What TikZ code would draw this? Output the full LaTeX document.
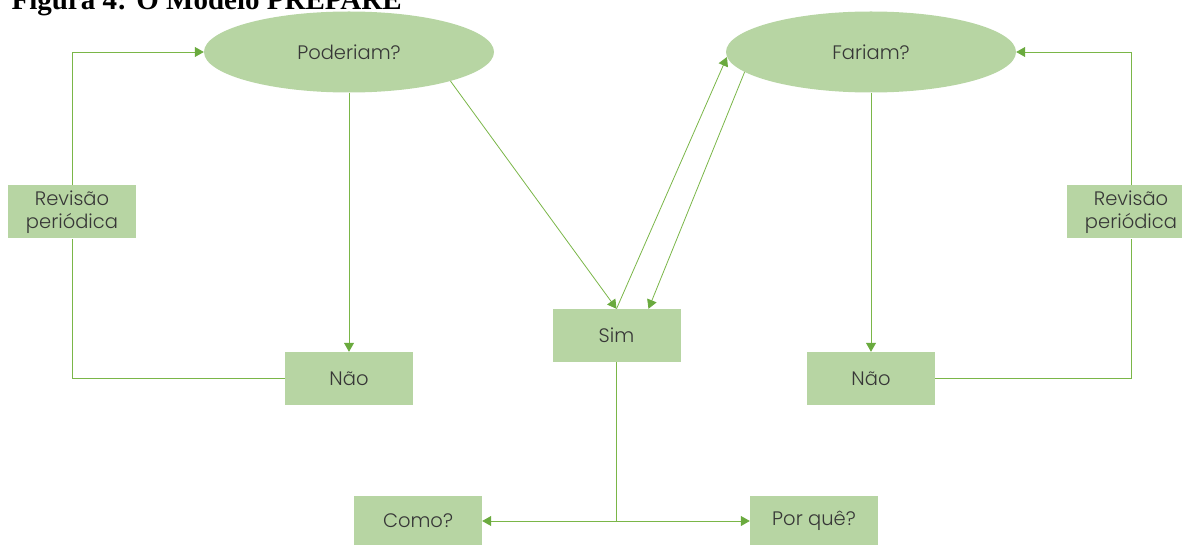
\documentclass[tikz,border=0pt]{standalone}
\usepackage{fontspec}
\setmainfont{Poppins}[UprightFont={* Light}]
\newfontfamily\titlefont{Liberation Serif}
\usetikzlibrary{shapes.geometric,arrows.meta,calc}
\definecolor{boxfill}{RGB}{183,213,163}
\definecolor{linkgreen}{RGB}{122,182,72}
\definecolor{tipgreen}{RGB}{106,170,62}
\definecolor{labelgray}{RGB}{55,55,55}
\begin{document}
\begin{tikzpicture}[x=1pt,y=-1pt,
  every node/.style={font=\fontsize{19.5}{23}\selectfont, text=labelgray},
  stepbox/.style={rectangle, fill=boxfill, minimum width=128pt, minimum height=53pt, inner sep=0pt, align=center},
  question/.style={ellipse, fill=boxfill, minimum width=290pt, minimum height=81pt, inner sep=0pt},
  link/.style={draw=linkgreen, line width=0.8pt},
  arr/.style={link, -{Triangle[length=9pt,width=10pt,color=tipgreen]}}
]
\useasboundingbox (0,0) rectangle (1182,545);
% heading, partly above the page edge
\node[anchor=base west, font=\titlefont\bfseries\fontsize{29}{30}\selectfont, text=black] (title) at (8,10) {Figura 4: O Modelo PREPARE};
% questions
\node[question] (P) at (349,52) {Poderiam?};
\node[question] (F) at (871,52) {Fariam?};
% boxes
\node[stepbox] (RL) at (72,212) {Revisão\\periódica};
\node[stepbox] (RR) at (1131,212) {Revisão\\periódica};
\node[stepbox] (NL) at (349,378.5) {Não};
\node[stepbox] (S) at (616.5,335.5) {Sim};
\node[stepbox] (NR) at (871,378.5) {Não};
\node[stepbox, minimum height=50pt] (C) at (418,521) {Como?};
\node[stepbox, minimum height=50pt] (Q) at (814,521) {Por quê?};
% review loops
\draw[link] (NL.west) -| (RL.south);
\draw[arr] (RL.north) |- (P.west);
\draw[link] (NR.east) -| (RR.south);
\draw[arr] (RR.north) |- (F.east);
% main flow
\draw[arr] (P.south) -- (NL.north);
\draw[arr] (F.south) -- (NR.north);
\draw[arr] (P.-16) -- (S.north);
\draw[arr] (S.north) -- (F.182);
\draw[arr] (F.189) -- ($(S.north)+(32,0)$);
\draw[arr] (S.south) |- (C.east);
\draw[arr] (S.south) |- (Q.west);
\end{tikzpicture}
\end{document}
